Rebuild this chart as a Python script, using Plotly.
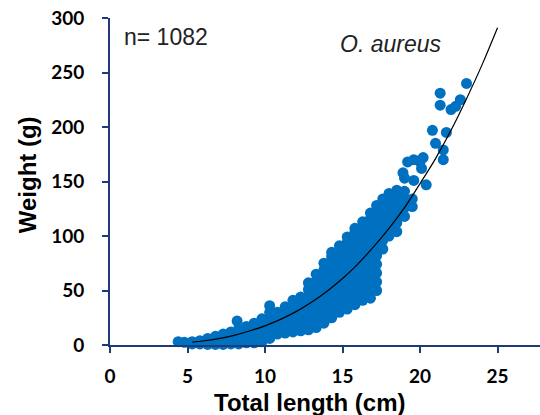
import plotly.graph_objects as go

length_cm = [
    4.4, 4.8,
    5.3, 5.3,
    5.8, 5.8,
    6.3, 6.3, 6.3,
    6.8, 6.8, 6.8,
    7.3, 7.3, 7.3,
    7.8, 7.8, 7.8,
    8.2,
    8.3, 8.3, 8.3, 8.3,
    8.8, 8.8, 8.8, 8.8,
    9.3, 9.3, 9.3, 9.3,
    9.8, 9.8, 9.8, 9.8, 9.8,
    10.3, 10.3, 10.3, 10.3, 10.3, 10.3,
    10.8, 10.8, 10.8, 10.8, 10.8,
    11.3, 11.3, 11.3, 11.3, 11.3,
    11.8, 11.8, 11.8, 11.8, 11.8, 11.8,
    12.3, 12.3, 12.3, 12.3, 12.3, 12.3,
    12.8, 12.8, 12.8, 12.8, 12.8, 12.8, 12.8, 12.8,
    13.3, 13.3, 13.3, 13.3, 13.3, 13.3, 13.3, 13.3, 13.3,
    13.8, 13.8, 13.8, 13.8, 13.8, 13.8, 13.8, 13.8, 13.8, 13.8,
    14.3, 14.3, 14.3, 14.3, 14.3, 14.3, 14.3, 14.3, 14.3, 14.3, 14.3,
    14.8, 14.8, 14.8, 14.8, 14.8, 14.8, 14.8, 14.8, 14.8, 14.8, 14.8,
    15.3, 15.3, 15.3, 15.3, 15.3, 15.3, 15.3, 15.3, 15.3, 15.3, 15.3, 15.3,
    15.8, 15.8, 15.8, 15.8, 15.8, 15.8, 15.8, 15.8, 15.8, 15.8, 15.8, 15.8, 15.8,
    16.3, 16.3, 16.3, 16.3, 16.3, 16.3, 16.3, 16.3, 16.3, 16.3, 16.3, 16.3, 16.3,
    16.8, 16.8, 16.8, 16.8, 16.8, 16.8, 16.8, 16.8, 16.8, 16.8, 16.8, 16.8, 16.8, 16.8,
    17.2, 17.2, 17.2, 17.2, 17.2, 17.2, 17.2, 17.2, 17.2, 17.2, 17.2,
    17.6, 17.6, 17.6, 17.6, 17.6, 17.6, 17.6,
    18.0, 18.0, 18.0, 18.0, 18.0, 18.0,
    18.5, 18.5, 18.5, 18.5, 18.5, 18.5,
    19.0, 19.0, 19.0, 19.0,
    19.5, 19.5,
    18.9, 19.0, 19.2, 19.6, 20.0, 20.2, 20.1, 20.4, 19.6,
    21.5, 21.5, 21.0, 20.8, 21.7,
    21.3, 21.3, 22.0, 22.6, 23.0, 22.3,
]
weight_g = [
    3, 2.5,
    1, 3,
    1, 4,
    0.5, 3, 6,
    0.5, 4, 8,
    0.5, 5, 10,
    1, 6, 12,
    22,
    1, 6, 11, 15,
    2, 7, 12, 17,
    2, 8, 14, 20,
    3, 9, 15, 21, 24,
    6, 12, 18, 24, 30, 36,
    10, 15, 20, 25, 30,
    11, 17, 23, 29, 35,
    12, 18, 24, 30, 36, 41,
    13, 19, 25, 31, 38, 44,
    14, 20, 27, 33, 39, 45, 51, 57,
    16, 22, 29, 35, 41, 47, 53, 59, 65,
    20, 26, 33, 39, 45, 51, 57, 63, 69, 75,
    25, 31, 38, 45, 51, 57, 63, 69, 75, 81, 85,
    30, 36, 43, 49, 55, 61, 67, 73, 79, 85, 91,
    33, 40, 46, 52, 58, 64, 70, 76, 82, 88, 94, 99,
    37, 44, 50, 56, 62, 68, 74, 80, 86, 92, 98, 104, 107,
    41, 48, 54, 60, 66, 72, 78, 84, 90, 96, 102, 108, 113,
    43, 50, 56, 62, 68, 74, 80, 86, 92, 98, 104, 110, 116, 121,
    50, 58, 66, 74, 82, 90, 98, 106, 114, 122, 128,
    88, 96, 104, 112, 120, 128, 134,
    100, 108, 116, 124, 132, 139,
    104, 112, 120, 128, 136, 142,
    118, 126, 134, 141,
    127, 134,
    158, 153, 168, 170, 168, 172, 162, 147, 151,
    170, 179, 185, 197, 195,
    231, 220, 216, 225, 240, 219,
]

# Fitted length-weight curve
curve_length = [5.3, 6, 7, 8, 9, 10, 11, 12, 13, 14, 15, 16, 17, 18, 19, 20, 21, 22, 23, 24, 25]
curve_weight = [2.5, 3.7, 5.9, 8.9, 12.8, 17.6, 23.5, 30.6, 39.2, 49.3, 61, 74.5, 90, 107, 126, 148, 171, 197, 226, 257, 291]

x_ticks = [0, 5, 10, 15, 20, 25]
y_ticks = [0, 50, 100, 150, 200, 250, 300]

navy = "#1F3A78"
blue = "#0070C0"
tick_family = "Lato, 'Liberation Sans', Arial, sans-serif"
text_family = "'Liberation Sans', Arial, sans-serif"

fig = go.Figure()
fig.add_trace(go.Scatter(
    x=length_cm, y=weight_g, mode="markers",
    marker=dict(color=blue, size=11, line=dict(width=0)),
    cliponaxis=False, showlegend=False, hoverinfo="skip",
))
fig.add_trace(go.Scatter(
    x=curve_length, y=curve_weight, mode="lines",
    line=dict(color="black", width=1.2, shape="spline"),
    cliponaxis=False, showlegend=False, hoverinfo="skip",
))

axis_common = dict(
    showline=True, linecolor=navy, linewidth=2,
    ticks="outside", ticklen=6, tickwidth=2, tickcolor=navy,
    showgrid=False, zeroline=False,
    tickfont=dict(family=tick_family, size=19, color="black", weight="bold"),
)

fig.update_layout(
    width=540, height=415,
    margin=dict(l=110, r=0, t=18, b=70),
    paper_bgcolor="white", plot_bgcolor="white",
    xaxis=dict(range=[0, 27.74], tickvals=x_ticks, ticklabelstandoff=7, **axis_common),
    yaxis=dict(range=[0, 300], tickvals=y_ticks, ticklabelstandoff=14, **axis_common),
    font=dict(family=text_family, color="black"),
    annotations=[
        dict(text="<b>Weight (g)</b>", xref="paper", yref="paper",
             x=-0.19, y=0.52, xanchor="center", yanchor="middle",
             textangle=-90, showarrow=False,
             font=dict(size=24, family=text_family, color="black")),
        dict(text="<b>Total length (cm)</b>", xref="paper", yref="paper",
             x=0.464, y=-0.176, xanchor="center", yanchor="middle",
             showarrow=False,
             font=dict(size=24, family=text_family, color="black")),
        dict(text="n= 1082", xref="x", yref="y", x=0.75, y=282.5,
             xanchor="left", yanchor="middle", showarrow=False,
             font=dict(size=23, family=text_family, color="#222222")),
        dict(text="<i>O. aureus</i>", xref="x", yref="y", x=14.7, y=276.5,
             xanchor="left", yanchor="middle", showarrow=False,
             font=dict(size=23, family=text_family, color="#222222")),
    ],
)

fig.write_html(
    "out.html",
    config={"displayModeBar": False},
    post_script="document.body.style.margin='0';document.body.style.padding='0';",
)
